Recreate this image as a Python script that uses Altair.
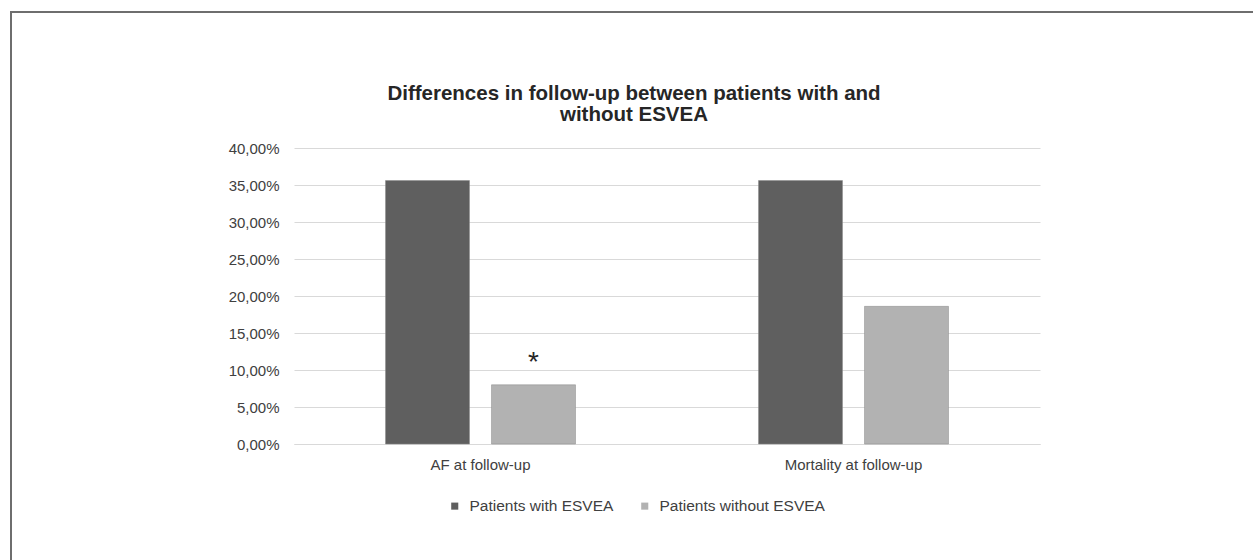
import altair as alt
import pandas as pd

categories = ["AF at follow-up", "AF at follow-up", "Mortality at follow-up", "Mortality at follow-up"]
groups = ["Patients with ESVEA", "Patients without ESVEA", "Patients with ESVEA", "Patients without ESVEA"]
values = [35.6, 8.0, 35.6, 18.6]
marks = ["", "*", "", ""]

cat_order = ["AF at follow-up", "Mortality at follow-up"]
group_order = ["Patients with ESVEA", "Patients without ESVEA"]
colors = ["#5f5f5f", "#b2b2b2"]
y_ticks = [0, 5, 10, 15, 20, 25, 30, 35, 40]
title_lines = ["Differences in follow-up between patients with and", "without ESVEA"]

df = pd.DataFrame({"cat": categories, "group": groups, "value": values, "mark": marks})
title_df = pd.DataFrame({"t": ["\n".join(title_lines)]})

FONT = "Liberation Sans"

x = alt.X("cat:N", sort=cat_order, title=None,
          scale=alt.Scale(paddingInner=0, paddingOuter=0),
          axis=alt.Axis(labelAngle=0, labelFont=FONT, labelFontSize=15, labelColor="#404040",
                        ticks=False, domainColor="#d9d9d9", domainWidth=1, labelPadding=13))
xo = alt.XOffset("group:N", sort=group_order,
                 scale=alt.Scale(paddingInner=0.2075, paddingOuter=0.863))
y = alt.Y("value:Q", title=None,
          scale=alt.Scale(domain=[0, 40]),
          axis=alt.Axis(values=y_ticks, labelOverlap=False,
                        labelExpr="replace(format(datum.value, '.2f'), '.', ',') + '%'",
                        labelFont=FONT, labelFontSize=15, labelColor="#404040",
                        ticks=False, domain=False, gridColor="#d9d9d9", gridWidth=1,
                        labelPadding=15))

bars = alt.Chart(df).mark_bar(stroke="#8a8a8a", strokeWidth=0.5).encode(
    x=x,
    xOffset=xo,
    y=y,
    color=alt.Color("group:N", sort=group_order, title=None,
                    scale=alt.Scale(domain=group_order, range=colors),
                    legend=alt.Legend(orient="none", direction="horizontal",
                                      legendX=153, legendY=350,
                                      symbolType="square", symbolSize=50,
                                      symbolStrokeWidth=0, labelLimit=400,
                                      labelFont=FONT, labelFontSize=15.5, labelColor="#404040",
                                      columnPadding=23, labelOffset=7)),
)

star = alt.Chart(df).mark_text(fontSize=28, dy=-22, color="#262626", font=FONT).encode(
    x=x,
    xOffset=xo,
    y=y,
    text="mark:N",
)

title = alt.Chart(title_df).mark_text(
    font=FONT, fontSize=20.5, fontWeight="bold", color="#262626",
    align="center", baseline="alphabetic", lineBreak="\n", lineHeight=21,
).encode(x=alt.value(340), y=alt.value(-48), text="t:N")

border_left = alt.Chart(title_df).mark_rule(color="#6e6e6e", strokeWidth=2).encode(
    x=alt.value(-283), y=alt.value(-136), y2=alt.value(420))
border_top = alt.Chart(title_df).mark_rule(color="#6e6e6e", strokeWidth=2).encode(
    x=alt.value(-284), x2=alt.value(970), y=alt.value(-136))

chart = alt.layer(bars, star, title, border_left, border_top).properties(
    width=746, height=296,
    autosize=alt.AutoSizeParams(type="none"),
    padding={"left": 294, "top": 148, "right": 213, "bottom": 116},
    background="white",
).configure_view(strokeWidth=0, stroke="transparent")

chart.save("out.html", embed_options={"renderer": "svg", "actions": False})
